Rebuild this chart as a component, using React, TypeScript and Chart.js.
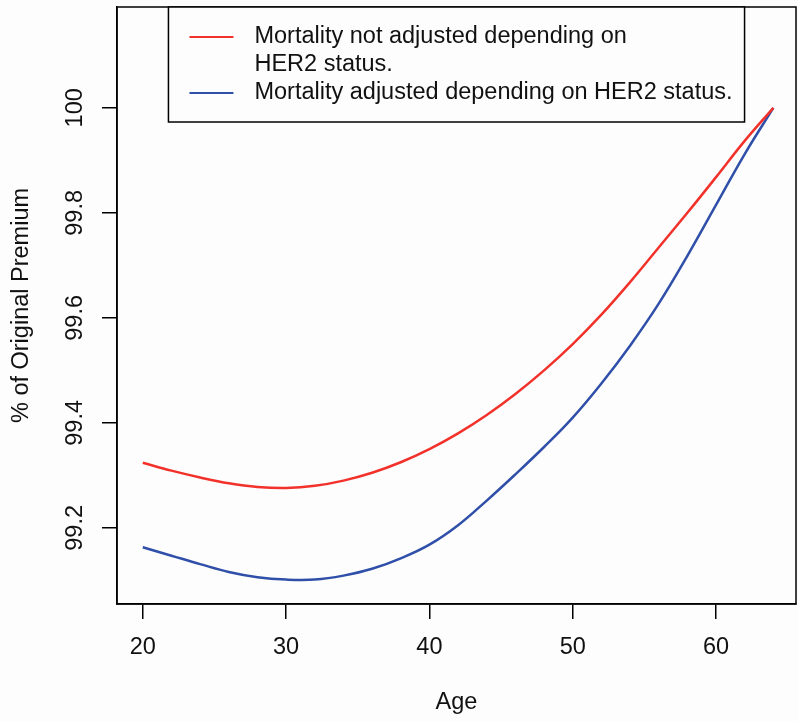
import React, { useEffect, useRef } from "react";
import { Chart, registerables } from "chart.js";

Chart.register(...registerables);

const AGES = [20, 22, 24, 26, 28, 30, 32, 34, 36, 38, 40, 42, 44, 46, 48, 50, 52, 54, 56, 58, 60, 62, 64];
const NOT_ADJUSTED = [
  99.324, 99.309, 99.296, 99.285, 99.278, 99.276, 99.28, 99.29, 99.305, 99.325, 99.35, 99.38,
  99.415, 99.455, 99.5, 99.55, 99.606, 99.668, 99.734, 99.8, 99.868, 99.937, 100.0,
];
const ADJUSTED = [
  99.163, 99.147, 99.131, 99.116, 99.106, 99.1015, 99.1015, 99.109, 99.122, 99.142, 99.168, 99.205,
  99.252, 99.302, 99.354, 99.41, 99.475, 99.547, 99.627, 99.718, 99.815, 99.912, 100.0,
];
const X_TICKS = [20, 30, 40, 50, 60];
const Y_TICKS = [99.2, 99.4, 99.6, 99.8, 100];
const Y_TICK_LABELS = ["99.2", "99.4", "99.6", "99.8", "100"];
const SERIES_LABELS = [
  "Mortality not adjusted depending on HER2 status.",
  "Mortality adjusted depending on HER2 status.",
];
const LEGEND_LINES = [
  ["Mortality not adjusted depending on", "HER2 status."],
  ["Mortality adjusted depending on HER2 status."],
];
const X_TITLE = "Age";
const Y_TITLE = "% of Original Premium";

const FONT = "'Liberation Sans', Arial, Helvetica, sans-serif";
const FS = 23.5;
const BG = "#fdfdfe";
const RED = "#f2322a";
const BLUE = "#2f4fa8";

export default function App() {
  const ref = useRef<HTMLCanvasElement | null>(null);

  useEffect(() => {
    document.body.style.margin = "0";
    document.body.style.background = BG;
    const canvas = ref.current;
    if (!canvas) return;

    const bgPlugin = {
      id: "bg",
      beforeDraw(chart: any) {
        const ctx = chart.ctx;
        ctx.save();
        ctx.fillStyle = BG;
        ctx.fillRect(0, 0, chart.width, chart.height);
        ctx.restore();
      },
    };

    const boxLegendPlugin = {
      id: "boxLegend",
      afterDraw(chart: any) {
        const ctx = chart.ctx;
        const ca = chart.chartArea;
        ctx.save();
        ctx.strokeStyle = "#000";
        ctx.lineWidth = 1.5;
        ctx.strokeRect(ca.left, ca.top, ca.right - ca.left, ca.bottom - ca.top);

        ctx.font = `${FS}px ${FONT}`;
        let maxW = 0;
        LEGEND_LINES.forEach((lines) =>
          lines.forEach((t) => {
            maxW = Math.max(maxW, ctx.measureText(t).width);
          })
        );
        const padL = 21, seg = 44, gap = 21, padR = 12;
        const w = padL + seg + gap + maxW + padR;
        const h = 115;
        const cx = (ca.left + ca.right) / 2;
        const left = cx - w / 2;
        const top = ca.top;
        ctx.fillStyle = BG;
        ctx.fillRect(left, top, w, h);
        ctx.strokeRect(left, top, w, h);
        ctx.textBaseline = "middle";
        ctx.textAlign = "left";
        let row = 0;
        chart.data.datasets.forEach((ds: any, i: number) => {
          const y = top + 30 + row * 28;
          ctx.strokeStyle = ds.borderColor;
          ctx.lineWidth = 2;
          ctx.beginPath();
          ctx.moveTo(left + padL, y);
          ctx.lineTo(left + padL + seg, y);
          ctx.stroke();
          ctx.fillStyle = "#111";
          LEGEND_LINES[i].forEach((t, k) => {
            ctx.fillText(t, left + padL + seg + gap, y + k * 28);
          });
          row += LEGEND_LINES[i].length;
        });
        ctx.restore();
      },
    };

    const chart = new Chart(canvas, {
      type: "line",
      data: {
        datasets: [
          {
            label: SERIES_LABELS[0],
            data: AGES.map((a, i) => ({ x: a, y: NOT_ADJUSTED[i] })),
            borderColor: RED,
            borderWidth: 2.5,
            pointRadius: 0,
            tension: 0.4,
            fill: false,
          },
          {
            label: SERIES_LABELS[1],
            data: AGES.map((a, i) => ({ x: a, y: ADJUSTED[i] })),
            borderColor: BLUE,
            borderWidth: 2.5,
            pointRadius: 0,
            tension: 0.4,
            fill: false,
          },
        ],
      },
      options: {
        responsive: false,
        animation: false,
        devicePixelRatio: 1,
        layout: { padding: { top: 7, right: 3, left: 0, bottom: 0 } },
        plugins: {
          legend: { display: false },
          tooltip: { enabled: false },
        },
        scales: {
          x: {
            type: "linear",
            min: 18.2,
            max: 65.58,
            afterBuildTicks: (s: any) => {
              s.ticks = X_TICKS.map((v) => ({ value: v }));
            },
            afterFit: (s: any) => {
              s.height = 117;
              s.paddingLeft = 0;
              s.paddingRight = 0;
            },
            grid: {
              display: true,
              drawOnChartArea: false,
              drawTicks: true,
              tickLength: 15,
              color: "#000",
              lineWidth: 1.5,
            },
            border: { display: true, color: "#000", width: 1.5 },
            ticks: {
              color: "#111",
              font: { family: FONT, size: FS },
              padding: 14,
              maxRotation: 0,
              minRotation: 0,
              callback: (v: any) => String(v),
            },
            title: {
              display: true,
              text: X_TITLE,
              color: "#111",
              font: { family: FONT, size: FS },
              padding: { top: 0, bottom: 4 },
            },
          },
          y: {
            type: "linear",
            min: 99.055,
            max: 100.192,
            afterBuildTicks: (s: any) => {
              s.ticks = Y_TICKS.map((v) => ({ value: v }));
            },
            afterFit: (s: any) => {
              s.width = 117;
              s.paddingTop = 0;
              s.paddingBottom = 0;
            },
            grid: {
              display: true,
              drawOnChartArea: false,
              drawTicks: true,
              tickLength: 15,
              color: "#000",
              lineWidth: 1.5,
            },
            border: { display: true, color: "#000", width: 1.5 },
            ticks: {
              color: "#111",
              font: { family: FONT, size: FS },
              padding: 4,
              minRotation: 90,
              maxRotation: 90,
              crossAlign: "center",
              callback: (v: any) => {
                const idx = Y_TICKS.findIndex((t) => Math.abs(t - Number(v)) < 1e-9);
                return idx >= 0 ? Y_TICK_LABELS[idx] : String(v);
              },
            },
            title: {
              display: true,
              text: Y_TITLE,
              color: "#111",
              font: { family: FONT, size: FS },
              padding: { top: 7.5, bottom: 0 },
            },
          },
        },
      },
      plugins: [bgPlugin, boxLegendPlugin],
    } as any);

    return () => chart.destroy();
  }, []);

  return (
    <div style={{ width: 799, height: 721 }}>
      <canvas ref={ref} width={799} height={721} style={{ display: "block" }} />
    </div>
  );
}
